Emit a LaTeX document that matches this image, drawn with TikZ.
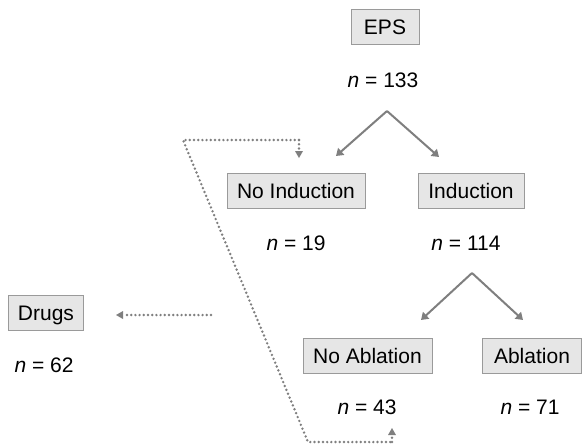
\documentclass[tikz,border=0pt]{standalone}
\usepackage{fontspec}
\setmainfont{Liberation Sans}
\usetikzlibrary{arrows.meta}
\definecolor{boxfill}{HTML}{E6E6E6}
\definecolor{boxline}{HTML}{9A9A9A}
\definecolor{arrgray}{HTML}{7F7F7F}
\begin{document}
\begin{tikzpicture}[x=1pt,y=-1pt,
  box/.style={draw=boxline,fill=boxfill,line width=1pt,font=\fontsize{21}{25}\selectfont,
    minimum height=35pt,inner sep=0pt,text height=15pt,text depth=0pt,text=black},
  nlab/.style={font=\fontsize{21}{25}\selectfont,anchor=base,inner sep=0pt},
  arr/.style={draw=arrgray,line width=2pt,-{Triangle[width=9pt,length=7pt]}},
  dotarr/.style={draw=arrgray,line width=2.7pt,dash pattern=on 0pt off 4.2pt,line cap=round,
    -{Triangle[width=8pt,length=7pt,line cap=butt,line width=0pt]}},
  dotline/.style={draw=arrgray,line width=2.7pt,dash pattern=on 0pt off 4.2pt,line cap=round}]
\useasboundingbox (0,0) rectangle (582,445);
% boxes
\node[box,minimum width=68pt] (eps) at (385,27) {EPS};
\node[box,minimum width=138pt] (noind) at (296,190.5) {No Induction};
\node[box,minimum width=106pt] (ind) at (471,190.5) {Induction};
\node[box,minimum width=75pt] (drugs) at (46,313) {Drugs};
\node[box,minimum width=129pt] (noabl) at (367.5,355.5) {No Ablation};
\node[box,minimum width=99pt] (abl) at (532,355.5) {Ablation};
% labels
\node[nlab] (n133) at (383,87) {\textit{n} = 133};
\node[nlab] (n19) at (296,250) {\textit{n} = 19};
\node[nlab] (n114) at (466,250) {\textit{n} = 114};
\node[nlab] (n62) at (44,372) {\textit{n} = 62};
\node[nlab] (n43) at (367,414.5) {\textit{n} = 43};
\node[nlab] (n71) at (530,414.5) {\textit{n} = 71};
% solid arrows
\coordinate (a1) at (387,111);
\coordinate (a1l) at (336,156);
\coordinate (a1r) at (439,157);
\coordinate (a2) at (472,273);
\coordinate (a2l) at (421,320);
\coordinate (a2r) at (523,320);
\draw[arr] (a1) -- (a1l);
\draw[arr] (a1) -- (a1r);
\draw[arr] (a2) -- (a2l);
\draw[arr] (a2) -- (a2r);
% dotted connectors
\coordinate (d1) at (183,140);
\coordinate (d2) at (299,140);
\coordinate (d2t) at (299,158);
\coordinate (d3) at (308,442);
\coordinate (d4) at (392,442);
\coordinate (d4t) at (392,428);
\draw[dotline] (d2) -- (d1) -- (d3) -- (d4);
\draw[dotarr] (d2) -- (d2t);
\draw[dotarr] (d4) -- (d4t);
\coordinate (e1) at (211,315);
\coordinate (e2) at (116,315);
\draw[dotarr] (e1) -- (e2);
\end{tikzpicture}
\end{document}
